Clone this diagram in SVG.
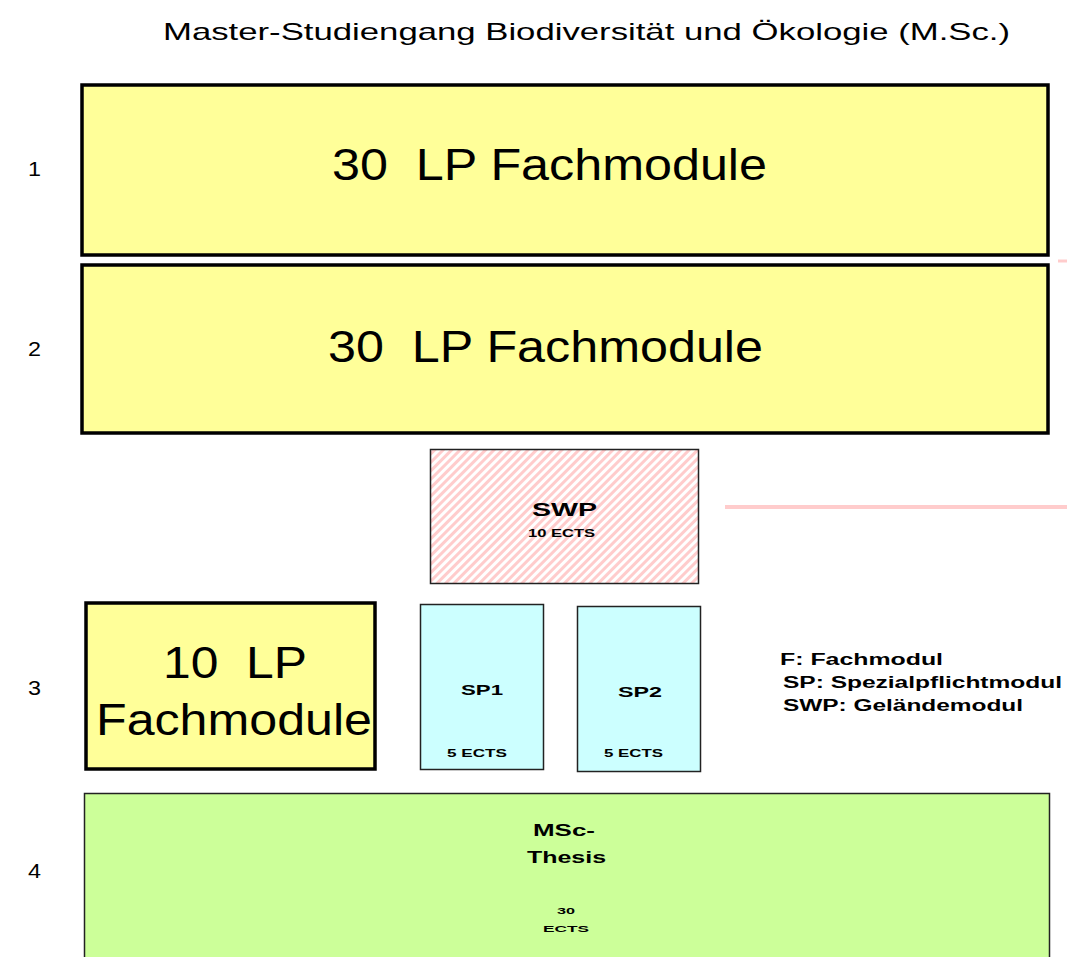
<svg xmlns="http://www.w3.org/2000/svg" width="1067" height="957" viewBox="0 0 1067 957">
<defs>
<pattern id="hatch" patternUnits="userSpaceOnUse" width="6" height="6" patternTransform="rotate(45)">
<rect width="6" height="6" fill="#ffffff"/>
<rect width="3" height="6" fill="#ffcccc"/>
</pattern>
</defs>
<style>
text{font-family:"Liberation Sans",Arial,sans-serif;fill:#000}
.big{font-size:44px}
.bold{font-weight:bold}
.thick{stroke:#000;stroke-width:3.5}
.thin{stroke:#222;stroke-width:1.5}
.yel{fill:#ffff99}
.cyan{fill:#ccffff}
.grn{fill:#ccff99}
.row{font-size:21px}
.leg{font-size:16px;font-weight:bold}
</style>
<rect width="1067" height="957" fill="#fff"/>
<text x="163" y="40" font-size="24" textLength="847" lengthAdjust="spacingAndGlyphs">Master-Studiengang Biodiversität und Ökologie (M.Sc.)</text>
<g id="rows">
<text class="row" x="28" y="176" textLength="13" lengthAdjust="spacingAndGlyphs">1</text>
<text class="row" x="28" y="356" textLength="13" lengthAdjust="spacingAndGlyphs">2</text>
<text class="row" x="28" y="695" textLength="13" lengthAdjust="spacingAndGlyphs">3</text>
<text class="row" x="28" y="878" textLength="13" lengthAdjust="spacingAndGlyphs">4</text>
</g>
<g id="connectors">
<line x1="725" y1="507" x2="1067" y2="507" stroke="#ffcccc" stroke-width="4"/>
<line x1="1058" y1="261" x2="1067" y2="261" stroke="#ffcccc" stroke-width="3"/>
</g>
<g id="sem1">
<rect class="yel thick" x="82" y="85" width="966" height="170"/>
<text class="big" x="332" y="180" xml:space="preserve" textLength="435" lengthAdjust="spacingAndGlyphs">30  LP Fachmodule</text>
</g>
<g id="sem2">
<rect class="yel thick" x="82" y="265" width="966" height="168"/>
<text class="big" x="328" y="362" xml:space="preserve" textLength="435" lengthAdjust="spacingAndGlyphs">30  LP Fachmodule</text>
</g>
<g id="swp">
<rect x="430.5" y="449.5" width="268" height="134" fill="url(#hatch)" class="thin"/>
<text class="bold" x="532" y="516" font-size="19" textLength="65" lengthAdjust="spacingAndGlyphs">SWP</text>
<text class="bold" x="528" y="537" font-size="10" textLength="67" lengthAdjust="spacingAndGlyphs">10 ECTS</text>
</g>
<g id="fach10">
<rect class="yel thick" x="86" y="603" width="289" height="166"/>
<text class="big" x="163" y="678" xml:space="preserve" textLength="144" lengthAdjust="spacingAndGlyphs">10  LP</text>
<text class="big" x="96" y="735" textLength="276" lengthAdjust="spacingAndGlyphs">Fachmodule</text>
</g>
<g id="sp1">
<rect class="cyan thin" x="420.5" y="604.5" width="123" height="165"/>
<text class="bold" x="461" y="695" font-size="15" textLength="42" lengthAdjust="spacingAndGlyphs">SP1</text>
<text class="bold" x="447" y="757" font-size="10" textLength="60" lengthAdjust="spacingAndGlyphs">5 ECTS</text>
</g>
<g id="sp2">
<rect class="cyan thin" x="577.5" y="606.5" width="123" height="165"/>
<text class="bold" x="618" y="697" font-size="15" textLength="44" lengthAdjust="spacingAndGlyphs">SP2</text>
<text class="bold" x="604" y="757" font-size="10" textLength="59" lengthAdjust="spacingAndGlyphs">5 ECTS</text>
</g>
<g id="legend">
<text class="leg" x="780" y="665" textLength="163" lengthAdjust="spacingAndGlyphs">F: Fachmodul</text>
<text class="leg" x="783" y="688" textLength="279" lengthAdjust="spacingAndGlyphs">SP: Spezialpflichtmodul</text>
<text class="leg" x="783" y="711" textLength="240" lengthAdjust="spacingAndGlyphs">SWP: Geländemodul</text>
</g>
<g id="thesis">
<rect class="grn thin" x="84.5" y="793.5" width="965" height="170"/>
<text class="bold" x="533" y="836" font-size="16" textLength="62" lengthAdjust="spacingAndGlyphs">MSc-</text>
<text class="bold" x="527" y="863" font-size="16" textLength="79" lengthAdjust="spacingAndGlyphs">Thesis</text>
<text class="bold" x="557" y="914" font-size="9" textLength="18" lengthAdjust="spacingAndGlyphs">30</text>
<text class="bold" x="543" y="932" font-size="9" textLength="46" lengthAdjust="spacingAndGlyphs">ECTS</text>
</g>
</svg>
